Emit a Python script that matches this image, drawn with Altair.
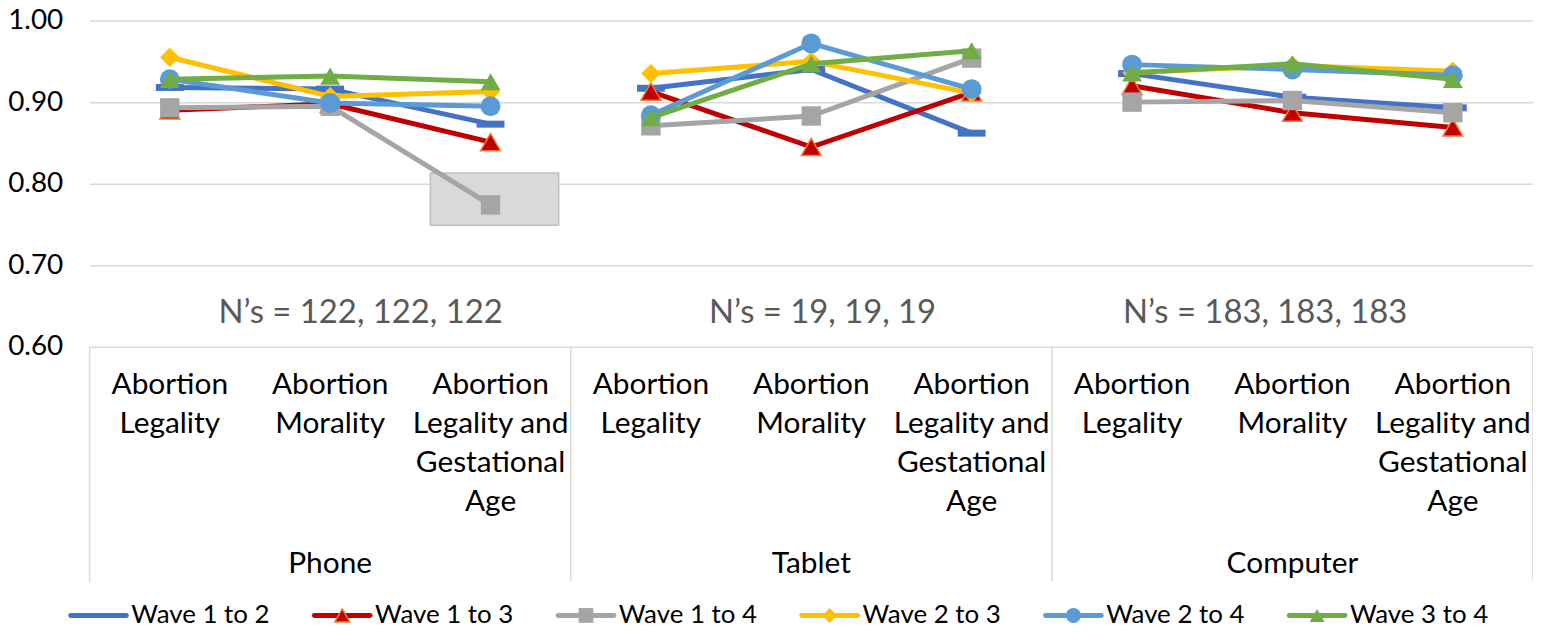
import altair as alt
import pandas as pd

# ---------------- data ----------------
groups = ["Phone", "Tablet", "Computer"]
measures = ["Abortion\nLegality", "Abortion\nMorality",
            "Abortion\nLegality and\nGestational\nAge"]
series_names = ["Wave 1 to 2", "Wave 1 to 3", "Wave 1 to 4",
                "Wave 2 to 3", "Wave 2 to 4", "Wave 3 to 4"]

# values in order: Phone (L, M, G), Tablet (L, M, G), Computer (L, M, G)
wave_1_2 = [0.918, 0.916, 0.873, 0.917, 0.940, 0.862, 0.935, 0.906, 0.893]
wave_1_3 = [0.890, 0.898, 0.851, 0.913, 0.845, 0.912, 0.920, 0.887, 0.869]
wave_1_4 = [0.893, 0.895, 0.774, 0.871, 0.883, 0.954, 0.900, 0.902, 0.887]
wave_2_3 = [0.955, 0.907, 0.913, 0.935, 0.950, 0.911, 0.936, 0.945, 0.938]
wave_2_4 = [0.928, 0.899, 0.895, 0.884, 0.972, 0.916, 0.946, 0.940, 0.933]
wave_3_4 = [0.928, 0.932, 0.925, 0.881, 0.947, 0.963, 0.936, 0.947, 0.928]
series_values = [wave_1_2, wave_1_3, wave_1_4, wave_2_3, wave_2_4, wave_3_4]

ns_labels = ["N’s = 122, 122, 122", "N’s = 19, 19, 19", "N’s = 183, 183, 183"]
y_ticks = [0.6, 0.7, 0.8, 0.9, 1.0]

# ---------------- styling ----------------
FONT = "Lato"
colors = ["#4472C4", "#C00000", "#A5A5A5", "#FFC000", "#5B9BD5", "#70AD47"]
dash = "M-1,-0.25H1V0.25H-1Z"
shapes = [dash, "triangle-up", "square", "diamond", "circle", "triangle-up"]
sizes = [784, 400, 380, 380, 400, 400]
legend_sizes = [0, 230, 220, 230, 230, 230]
marker_stroke = [None, "#ED7D31", None, None, None, None]

W, H = 1451, 328
xscale = alt.Scale(domain=[-0.5, 8.5])
yscale = alt.Scale(domain=[0.6, 1.0])
yaxis = alt.Axis(values=y_ticks, format=".2f", grid=True, gridColor="#d9d9d9",
                 gridWidth=1.5, ticks=False, domain=False, labelFontSize=28,
                 labelFont=FONT, labelColor="#000000", labelPadding=27, title=None)

rows = []
for s, vals in zip(series_names, series_values):
    for i, v in enumerate(vals):
        rows.append({"series": s, "idx": i, "group": groups[i // 3], "value": v})
df = pd.DataFrame(rows)

cat_df = pd.DataFrame({"idx": list(range(9)),
                       "label": [measures[i % 3] for i in range(9)],
                       "value": [0.6] * 9})
grp_df = pd.DataFrame({"idx": [1, 4, 7], "label": groups, "value": [0.6] * 3})
sep_df = pd.DataFrame({"idx": [-0.5, 2.5, 5.5, 8.5], "value": [0.6] * 4})
ns_pos = [1.19, 4.07, 6.83]  # annotation positions (category units)
ns_df = pd.DataFrame({"idx": ns_pos, "label": ns_labels, "value": [0.6] * 3})
# highlight box around the low Phone / Wave 1 to 4 value
box_df = pd.DataFrame({"x1": [1.625], "x2": [2.425], "value": [0.749], "y2": [0.813]})

X = alt.X("idx:Q", scale=xscale, axis=None, title=None)
Y = alt.Y("value:Q", scale=yscale, axis=yaxis, title=None)

layers = []
layers.append(alt.Chart(box_df).mark_rect(fill="#d9d9d9", stroke="#bfbfbf", strokeWidth=1.5)
              .encode(x=alt.X("x1:Q", scale=xscale, axis=None, title=None), x2="x2:Q",
                      y=Y, y2="y2:Q"))
layers.append(alt.Chart(sep_df).mark_rule(color="#d9d9d9", strokeWidth=1.5)
              .encode(x=X, y=alt.value(H), y2=alt.value(564)))

for s, c, shp, sz, st in zip(series_names, colors, shapes, sizes, marker_stroke):
    sub = df[df["series"] == s]
    layers.append(alt.Chart(sub).mark_line(color=c, strokeWidth=5, strokeCap="round",
                                           strokeJoin="round")
                  .encode(x=X, y=Y, detail="group:N", order="idx:Q"))
    pkw = dict(shape=shp, size=sz, filled=True, fill=c, opacity=1)
    if st:
        pkw.update(stroke=st, strokeWidth=1.5)
    else:
        pkw.update(strokeWidth=0)
    layers.append(alt.Chart(sub).mark_point(**pkw).encode(x=X, y=Y))

layers.append(alt.Chart(cat_df).mark_text(lineBreak="\n", baseline="top", align="center",
                                          fontSize=30, font=FONT, lineHeight=39.5,
                                          color="#000000")
              .encode(x=X, y=alt.value(351), text="label:N"))
layers.append(alt.Chart(grp_df).mark_text(baseline="middle", align="center", fontSize=30,
                                          font=FONT, color="#000000")
              .encode(x=X, y=alt.value(546), text="label:N"))
layers.append(alt.Chart(ns_df).mark_text(baseline="middle", align="center", fontSize=33,
                                         font=FONT, color="#595959")
              .encode(x=X, y=alt.value(294), text="label:N"))

# legend (drawn manually: line with marker in the middle, then label)
LEG_Y = 598
for i, (s, c, shp, lsz, st) in enumerate(zip(series_names, colors, shapes,
                                               legend_sizes, marker_stroke)):
    x0 = -19 + 245 * i
    one = pd.DataFrame({"series": [s]})
    layers.append(alt.Chart(one).mark_rule(color=c, strokeWidth=5, strokeCap="round")
                  .encode(x=alt.value(x0), x2=alt.value(x0 + 56), y=alt.value(LEG_Y)))
    if lsz:
        pkw = dict(shape=shp, size=lsz, filled=True, fill=c, opacity=1)
        if st:
            pkw.update(stroke=st, strokeWidth=1.5)
        else:
            pkw.update(strokeWidth=0)
        layers.append(alt.Chart(one).mark_point(**pkw)
                      .encode(x=alt.value(x0 + 28), y=alt.value(LEG_Y)))
    layers.append(alt.Chart(one).mark_text(align="left", baseline="middle", fontSize=26,
                                           font=FONT, color="#000000")
                  .encode(x=alt.value(x0 + 61), y=alt.value(LEG_Y), text="series:N"))

chart = alt.layer(*layers).properties(
    width=W, height=H,
    autosize=alt.AutoSizeParams(type="none"),
    padding={"left": 82, "top": 11, "right": 0, "bottom": 283},
).configure_view(stroke=None)

chart.save("out.html", embed_options={"renderer": "svg", "actions": False})
